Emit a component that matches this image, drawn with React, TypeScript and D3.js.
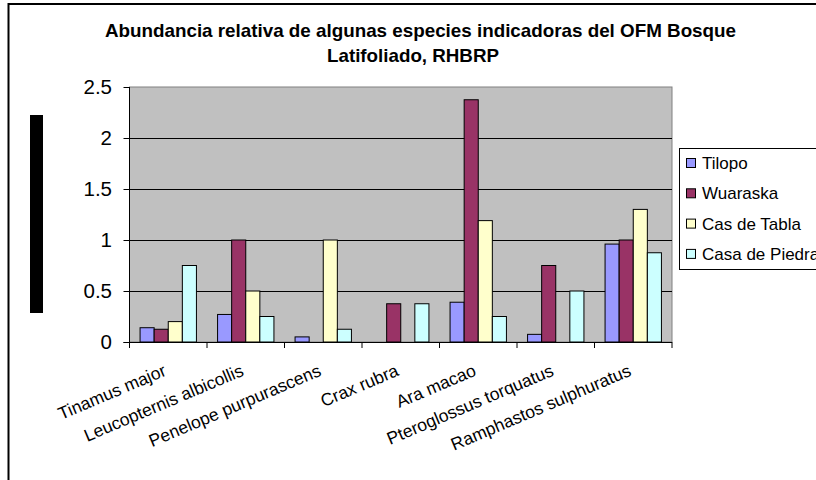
// @ts-nocheck
import React from "react";
import * as d3 from "d3";

const species = [
  "Tinamus major",
  "Leucopternis albicollis",
  "Penelope purpurascens",
  "Crax rubra",
  "Ara macao",
  "Pteroglossus torquatus",
  "Ramphastos sulphuratus",
];
const seriesNames = ["Tilopo", "Wuaraska", "Cas de Tabla", "Casa de Piedra"];
const tilopo = [0.14, 0.27, 0.05, 0, 0.39, 0.075, 0.96];
const wuaraska = [0.125, 1, 0, 0.375, 2.375, 0.75, 1];
const casDeTabla = [0.2, 0.5, 1, 0, 1.19, 0, 1.3];
const casaDePiedra = [0.75, 0.25, 0.125, 0.375, 0.25, 0.5, 0.875];
const seriesColors = ["#9999FF", "#993366", "#FFFFCC", "#CCFFFF"];
const yTicks = [0, 0.5, 1, 1.5, 2, 2.5];
const titleLines = [
  "Abundancia relativa de algunas especies indicadoras del OFM Bosque",
  "Latifoliado, RHBRP",
];

const font = "Arial, 'Liberation Sans', sans-serif";

export default function App() {
  const values = [tilopo, wuaraska, casDeTabla, casaDePiedra];
  const plot = { left: 129.5, right: 672, top: 87, bottom: 342 };

  const x = d3.scaleBand().domain(species).range([plot.left, plot.right]);
  const xSub = d3
    .scaleBand()
    .domain(seriesNames)
    .range([0, x.bandwidth()])
    .paddingInner(0)
    .paddingOuter(0.75);
  const y = d3.scaleLinear().domain([0, 2.5]).range([plot.bottom, plot.top]);

  const boundaries = species.map((s) => x(s)).concat([plot.right]);

  return (
    <svg
      width={816}
      height={480}
      style={{ position: "absolute", left: 0, top: 0, background: "#fff" }}
      fontFamily={font}
    >
      {/* outer chart frame */}
      <rect x={8.5} y={4} width={900} height={600} fill="white" stroke="black" strokeWidth={2} />

      {/* black block on the left */}
      <rect x={30} y={115} width={13} height={198} fill="black" />

      {/* title */}
      {titleLines.map((t, i) => (
        <text
          key={i}
          x={i === 0 ? 420.5 : 413}
          y={37 + i * 25}
          textAnchor="middle"
          fontWeight="bold"
          fontSize={18.5}
          textLength={i === 0 ? 631 : 172}
          lengthAdjust="spacingAndGlyphs"
        >
          {t}
        </text>
      ))}

      {/* plot area */}
      <rect
        x={plot.left}
        y={plot.top}
        width={plot.right - plot.left}
        height={plot.bottom - plot.top}
        fill="#C0C0C0"
        stroke="#808080"
        strokeWidth={1}
      />
      {yTicks
        .filter((t) => t > 0 && t < 2.5)
        .map((t) => (
          <line
            key={t}
            x1={plot.left}
            x2={plot.right}
            y1={Math.round(y(t)) + 0.5}
            y2={Math.round(y(t)) + 0.5}
            stroke="black"
          />
        ))}

      {/* bars */}
      {species.map((s, i) => (
        <g key={s} transform={`translate(${x(s)},0)`}>
          {seriesNames.map((n, j) =>
            values[j][i] > 0 ? (
              <rect
                key={n}
                x={xSub(n)}
                y={y(values[j][i])}
                width={xSub.bandwidth()}
                height={plot.bottom - y(values[j][i])}
                fill={seriesColors[j]}
                stroke="black"
                strokeWidth={1}
              />
            ) : null
          )}
        </g>
      ))}

      {/* axes */}
      <line x1={plot.left} x2={plot.left} y1={plot.top} y2={plot.bottom} stroke="black" />
      <line x1={plot.left - 6} x2={plot.right} y1={plot.bottom + 0.5} y2={plot.bottom + 0.5} stroke="black" />
      {yTicks.map((t) => (
        <g key={t}>
          <line
            x1={plot.left - 6}
            x2={plot.left}
            y1={Math.round(y(t)) + 0.5}
            y2={Math.round(y(t)) + 0.5}
            stroke="black"
          />
          <text x={112} y={y(t)} dy="0.36em" textAnchor="end" fontSize={20.5}>
            {t}
          </text>
        </g>
      ))}
      {boundaries.map((b, i) => (
        <line key={i} x1={b} x2={b} y1={plot.bottom} y2={plot.bottom + 6} stroke="black" />
      ))}
      {species.map((s) => (
        <text
          key={s}
          transform={`translate(${x(s) + x.bandwidth() / 2 - 1},${plot.bottom + 33}) rotate(-23)`}
          textAnchor="end"
          fontSize={17.5}
        >
          {s}
        </text>
      ))}

      {/* legend */}
      <rect x={679.5} y={148.5} width={200} height={121} fill="white" stroke="black" />
      {seriesNames.map((n, j) => (
        <g key={n} transform={`translate(686,${163 + j * 30.3})`}>
          <rect x={0.5} y={-4.5} width={9} height={9} fill={seriesColors[j]} stroke="black" />
          <text x={16} y={0} dy="0.36em" fontSize={17}>
            {n}
          </text>
        </g>
      ))}
    </svg>
  );
}
